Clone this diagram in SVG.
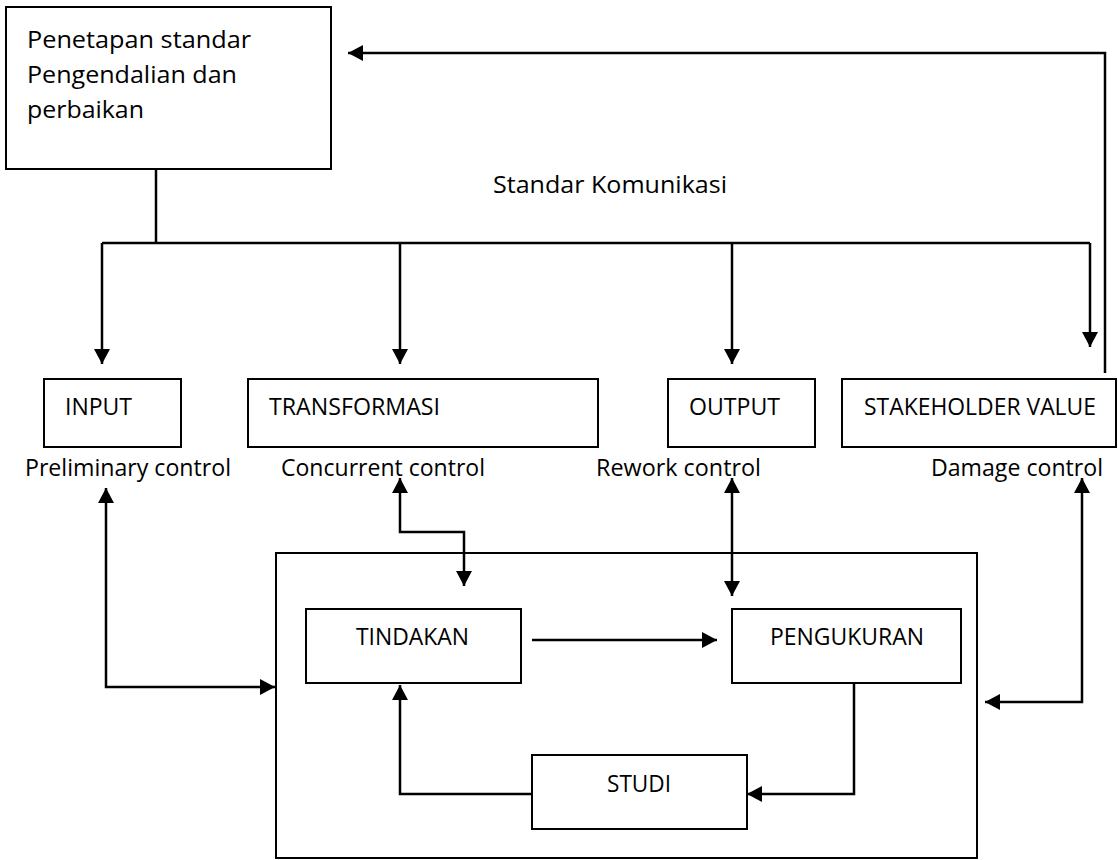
<svg xmlns="http://www.w3.org/2000/svg" width="1118" height="860" viewBox="0 0 1118 860">
<style>
.box{fill:#fff;stroke:#000;stroke-width:2}
.ln{fill:none;stroke:#000;stroke-width:2.5}
.ar{fill:none;stroke:#000;stroke-width:2.5;marker-end:url(#ah)}
.dar{fill:none;stroke:#000;stroke-width:2.5;marker-end:url(#ah);marker-start:url(#ah)}
text{font-family:"Open Sans","DejaVu Sans",sans-serif;font-size:24px;fill:#000}
</style>
<defs>
<marker id="ah" markerUnits="userSpaceOnUse" markerWidth="16" markerHeight="17" refX="15" refY="8" orient="auto-start-reverse">
<path d="M0,0 L15,8 L0,16 z" fill="#000"/>
</marker>
</defs>
<rect width="1118" height="860" fill="#fff"/>
<g id="node-standar">
<rect class="box" x="6" y="7" width="325" height="162"/>
<text x="27" y="48" textLength="224" lengthAdjust="spacingAndGlyphs">Penetapan standar</text>
<text x="27" y="83" textLength="210" lengthAdjust="spacingAndGlyphs">Pengendalian dan</text>
<text x="27" y="118" textLength="117" lengthAdjust="spacingAndGlyphs">perbaikan</text>
</g>
<g id="label-komunikasi">
<text x="493" y="193" textLength="234" lengthAdjust="spacingAndGlyphs">Standar Komunikasi</text>
</g>
<g id="node-input">
<rect class="box" x="44" y="379" width="137" height="68"/>
<text x="65" y="415" textLength="67" lengthAdjust="spacingAndGlyphs">INPUT</text>
</g>
<g id="node-transformasi">
<rect class="box" x="248" y="379" width="350" height="68"/>
<text x="269" y="415" textLength="171" lengthAdjust="spacingAndGlyphs">TRANSFORMASI</text>
</g>
<g id="node-output">
<rect class="box" x="668" y="379" width="147" height="68"/>
<text x="689" y="415" textLength="91" lengthAdjust="spacingAndGlyphs">OUTPUT</text>
</g>
<g id="node-stakeholder">
<rect class="box" x="842" y="379" width="274" height="68"/>
<text x="864" y="415" textLength="232" lengthAdjust="spacingAndGlyphs">STAKEHOLDER VALUE</text>
</g>
<g id="labels-control">
<text x="25" y="476" textLength="206" lengthAdjust="spacingAndGlyphs">Preliminary control</text>
<text x="281" y="476" textLength="204" lengthAdjust="spacingAndGlyphs">Concurrent control</text>
<text x="596" y="476" textLength="165" lengthAdjust="spacingAndGlyphs">Rework control</text>
<text x="931" y="476" textLength="172" lengthAdjust="spacingAndGlyphs">Damage control</text>
</g>
<g id="node-proses">
<rect class="box" x="276" y="553" width="701" height="305" style="fill:none"/>
</g>
<g id="node-tindakan">
<rect class="box" x="306" y="609" width="215" height="74"/>
<text x="356" y="645" textLength="113" lengthAdjust="spacingAndGlyphs">TINDAKAN</text>
</g>
<g id="node-pengukuran">
<rect class="box" x="732" y="609" width="229" height="74"/>
<text x="770" y="645" textLength="154" lengthAdjust="spacingAndGlyphs">PENGUKURAN</text>
</g>
<g id="node-studi">
<rect class="box" x="532" y="755" width="215" height="74"/>
<text x="607" y="792" textLength="64" lengthAdjust="spacingAndGlyphs">STUDI</text>
</g>
<g id="connectors">
<path class="ln" d="M156,169 V243"/>
<path class="ln" d="M102,243 H1090"/>
<path class="ar" d="M102,243 V364"/>
<path class="ar" d="M400,243 V364"/>
<path class="ar" d="M732,243 V364"/>
<path class="ar" d="M1090,243 V347"/>
<path class="ar" d="M1105,373 V53 H348"/>
<path class="dar" d="M106,488 V687 H275"/>
<path class="dar" d="M400,478 V532 H464 V586"/>
<path class="dar" d="M732,478 V596"/>
<path class="dar" d="M1082,478 V702 H985"/>
<path class="ar" d="M532,640 H717"/>
<path class="ar" d="M854,683 V794 H747"/>
<path class="ar" d="M532,794 H400 V685"/>
</g>
</svg>
